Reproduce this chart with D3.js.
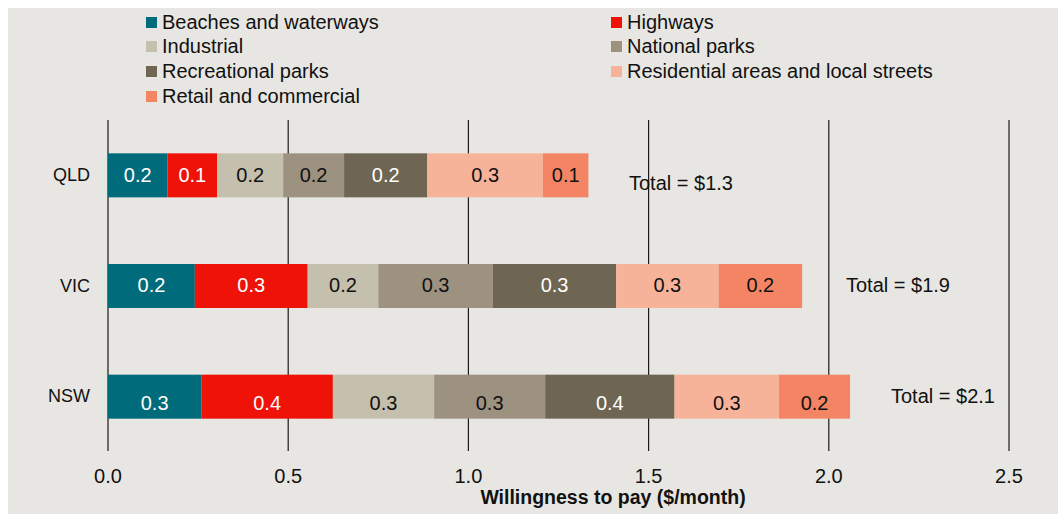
<!DOCTYPE html>
<html><head><meta charset="utf-8">
<script src="https://cdn.jsdelivr.net/npm/d3@7"></script>
<style>
body{margin:0;background:#fff;}
svg{display:block;font-family:"Liberation Sans",Arial,sans-serif;}
</style></head><body>
<svg id="c" width="1058" height="514"></svg>
<script>
const states = ["QLD","VIC","NSW"];
const seriesNames = ["Beaches and waterways","Highways","Industrial","National parks","Recreational parks","Residential areas and local streets","Retail and commercial"];
const beaches      = [0.165, 0.241, 0.259];
const highways     = [0.138, 0.313, 0.365];
const industrial   = [0.183, 0.196, 0.281];
const nationalParks= [0.169, 0.318, 0.308];
const recreational = [0.231, 0.342, 0.359];
const residential  = [0.321, 0.284, 0.290];
const retail       = [0.126, 0.232, 0.197];
const segLabels = [
  ["0.2","0.1","0.2","0.2","0.2","0.3","0.1"],
  ["0.2","0.3","0.2","0.3","0.3","0.3","0.2"],
  ["0.3","0.4","0.3","0.3","0.4","0.3","0.2"]
];
const totals = ["Total = $1.3","Total = $1.9","Total = $2.1"];
const xTicks = [0,0.5,1.0,1.5,2.0,2.5];
const axisTitle = "Willingness to pay ($/month)";

const colors = ["#006b7a","#ee1209","#c5bfad","#9d9280","#6e6652","#f7b39a","#f38565"];
const textColors = ["#fff","#fff","#111","#111","#fff","#111","#111"];
const seriesValues = [beaches,highways,industrial,nationalParks,recreational,residential,retail];

const svg = d3.select("#c");
svg.append("rect").attr("x",8).attr("y",8).attr("width",1050).attr("height",506).attr("fill","#e8e6e2");

const x = d3.scaleLinear().domain([0,2.5]).range([108,1009]);
const y = d3.scaleBand().domain(states).range([120,452]).paddingInner(0.6).paddingOuter(0.3);

// gridlines
svg.append("g").selectAll("line").data(xTicks).join("line")
  .attr("x1",d=>x(d)).attr("x2",d=>x(d)).attr("y1",120).attr("y2",451)
  .attr("stroke","#1a1a1a").attr("stroke-width",1.2);

// stacked data
const rows = states.map((s,i)=>{const o={state:s}; seriesNames.forEach((n,j)=>o[n]=seriesValues[j][i]); return o;});
const stack = d3.stack().keys(seriesNames)(rows);

const bh = 44;
stack.forEach((layer,j)=>{
  const g = svg.append("g");
  g.selectAll("rect").data(layer).join("rect")
    .attr("x",d=>x(d[0])).attr("width",d=>x(d[1])-x(d[0]))
    .attr("y",d=>y(d.data.state)+y.bandwidth()/2-bh/2).attr("height",bh)
    .attr("fill",colors[j]);
  g.selectAll("text").data(layer).join("text")
    .attr("x",d=>(x(d[0])+x(d[1]))/2)
    .attr("y",(d,i)=>y(d.data.state)+y.bandwidth()/2 + (i===2?8:1))
    .attr("text-anchor","middle").attr("dominant-baseline","middle")
    .attr("font-size",20).attr("fill",textColors[j])
    .text((d,i)=>segLabels[i][j]);
});

// category labels
svg.append("g").selectAll("text").data(states).join("text")
  .attr("x",90).attr("y",d=>y(d)+y.bandwidth()/2+1)
  .attr("text-anchor","end").attr("dominant-baseline","middle")
  .attr("font-size",18).attr("fill","#111").text(d=>d);

// totals
const totalX = [629,846,891];
const totalDy = [9,1,1];
svg.append("g").selectAll("text").data(totals).join("text")
  .attr("x",(d,i)=>totalX[i]).attr("y",(d,i)=>y(states[i])+y.bandwidth()/2+totalDy[i])
  .attr("dominant-baseline","middle").attr("font-size",20).attr("fill","#111").text(d=>d);

// axis tick labels
svg.append("g").selectAll("text").data(xTicks).join("text")
  .attr("x",d=>x(d)).attr("y",478).attr("text-anchor","middle").attr("dominant-baseline","middle")
  .attr("font-size",20).attr("fill","#111").text(d=>d3.format(".1f")(d));
svg.append("text").attr("x",613).attr("y",499).attr("text-anchor","middle").attr("dominant-baseline","middle")
  .attr("font-size",19.5).attr("font-weight","bold").attr("fill","#111").text(axisTitle);

// legend
const legPos = [[146,23],[611,23],[146,47],[611,47],[146,72],[611,72],[146,97]];
const lg = svg.append("g");
seriesNames.forEach((n,j)=>{
  lg.append("rect").attr("x",legPos[j][0]).attr("y",legPos[j][1]-6).attr("width",11).attr("height",11).attr("fill",colors[j]);
  lg.append("text").attr("x",legPos[j][0]+16).attr("y",legPos[j][1]+1).attr("dominant-baseline","middle")
    .attr("font-size",20).attr("fill","#111").text(n);
});
</script></body></html>
